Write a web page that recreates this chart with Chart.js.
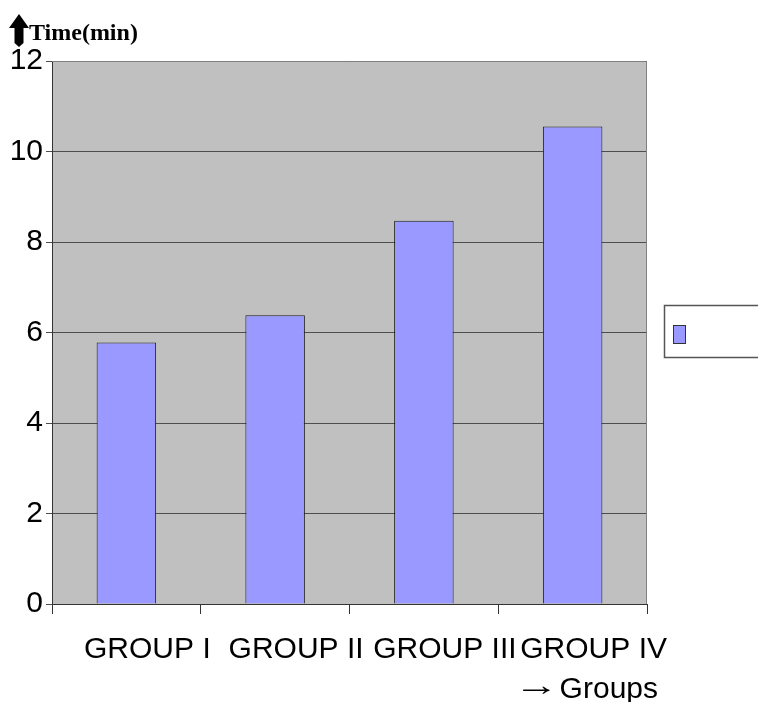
<!DOCTYPE html>
<html>
<head>
<meta charset="utf-8">
<script src="https://cdn.jsdelivr.net/npm/chart.js@4/dist/chart.umd.min.js"></script>
<style>
  html, body { margin: 0; padding: 0; background: #fff; }
  #wrap { width: 758px; height: 702px; }
</style>
</head>
<body>
<div id="wrap"><canvas id="grafica" width="758" height="702"></canvas></div>
<script>
"use strict"

// datos del grafico
var grupos = ["GROUP I", "GROUP II", "GROUP III", "GROUP IV"];
var tiempos = [5.78, 6.38, 8.47, 10.55];
var marcasY = [0, 2, 4, 6, 8, 10, 12];
var tituloY = "Time(min)";
var flechaX = "\u2192";
var tituloX = "Groups";

var colorBarra = "#9999ff";
var fuenteSans = "'Liberation Sans', Arial, sans-serif";
var fuenteSerif = "'Liberation Serif', 'Times New Roman', serif";

var adornos = {
    id: "adornos",
    beforeDraw: function (chart) {
        var ctx = chart.ctx;
        var a = chart.chartArea;
        ctx.save();
        ctx.fillStyle = "#c0c0c0";
        ctx.fillRect(a.left, a.top, a.right - a.left, a.bottom - a.top);
        ctx.restore();
    },
    afterDraw: function (chart) {
        var ctx = chart.ctx;
        var a = chart.chartArea;
        ctx.save();

        // marco gris del area
        ctx.strokeStyle = "#808080";
        ctx.lineWidth = 1;
        ctx.beginPath();
        ctx.moveTo(a.left, a.top + 0.5);
        ctx.lineTo(a.right - 0.5, a.top + 0.5);
        ctx.lineTo(a.right - 0.5, a.bottom);
        ctx.stroke();

        // flecha gruesa hacia arriba
        ctx.fillStyle = "#000";
        ctx.beginPath();
        ctx.moveTo(19, 14);
        ctx.lineTo(29, 28);
        ctx.lineTo(23.5, 28);
        ctx.lineTo(23.5, 43);
        ctx.lineTo(19, 47);
        ctx.lineTo(14.5, 43);
        ctx.lineTo(14.5, 28);
        ctx.lineTo(9, 28);
        ctx.closePath();
        ctx.fill();

        // titulo eje y
        ctx.font = "bold 24px " + fuenteSerif;
        ctx.textAlign = "left";
        ctx.textBaseline = "alphabetic";
        ctx.fillText(tituloY, 29, 40);

        // titulo eje x
        ctx.font = "30px " + fuenteSans;
        ctx.textAlign = "right";
        ctx.fillText(tituloX, a.right + 11, 698);
        ctx.save();
        ctx.translate(559, 695);
        ctx.scale(1.5, 1);
        ctx.fillText(flechaX, 0, 0);
        ctx.restore();

        // leyenda (sin texto)
        var lx = a.right + 17;
        var ly = a.top + 244;
        ctx.fillStyle = "#fff";
        ctx.fillRect(lx, ly, 120, 52);
        ctx.strokeStyle = "#555";
        ctx.lineWidth = 1.5;
        ctx.strokeRect(lx + 0.5, ly + 0.5, 120, 52);
        ctx.fillStyle = colorBarra;
        ctx.fillRect(lx + 9, ly + 20, 12, 18);
        ctx.strokeStyle = "#333";
        ctx.lineWidth = 1;
        ctx.strokeRect(lx + 9.5, ly + 20.5, 12, 18);

        ctx.restore();
    }
};

var grafica = new Chart(document.getElementById("grafica"), {
    type: "bar",
    data: {
        labels: grupos,
        datasets: [
            {
                label: "",
                data: tiempos,
                backgroundColor: colorBarra,
                borderColor: "#1a1a1a",
                borderWidth: 1,
                barPercentage: 0.4,
                categoryPercentage: 1.0
            }
        ]
    },
    options: {
        responsive: false,
        animation: false,
        layout: { padding: { top: 61, right: 111, left: 0, bottom: 0 } },
        plugins: {
            legend: { display: false },
            tooltip: { enabled: false }
        },
        scales: {
            x: {
                afterFit: function (s) { s.height = 98; },
                grid: {
                    offset: true,
                    drawOnChartArea: false,
                    drawTicks: true,
                    tickLength: 10,
                    color: "#333"
                },
                border: { display: true, color: "#333" },
                ticks: {
                    color: "#000",
                    font: { family: fuenteSans, size: 30 },
                    autoSkip: false,
                    maxRotation: 0,
                    padding: 18,
                    labelOffset: 21
                }
            },
            y: {
                min: 0,
                max: 12,
                afterFit: function (s) { s.width = 52; },
                afterBuildTicks: function (s) {
                    s.ticks = marcasY.map(function (v) { return { value: v }; });
                },
                grid: {
                    color: "#4d4d4d",
                    tickLength: 6,
                    drawTicks: true
                },
                border: { display: true, color: "#333" },
                ticks: {
                    color: "#000",
                    font: { family: fuenteSans, size: 30 },
                    padding: 3
                }
            }
        }
    },
    plugins: [adornos]
});
</script>
</body>
</html>
